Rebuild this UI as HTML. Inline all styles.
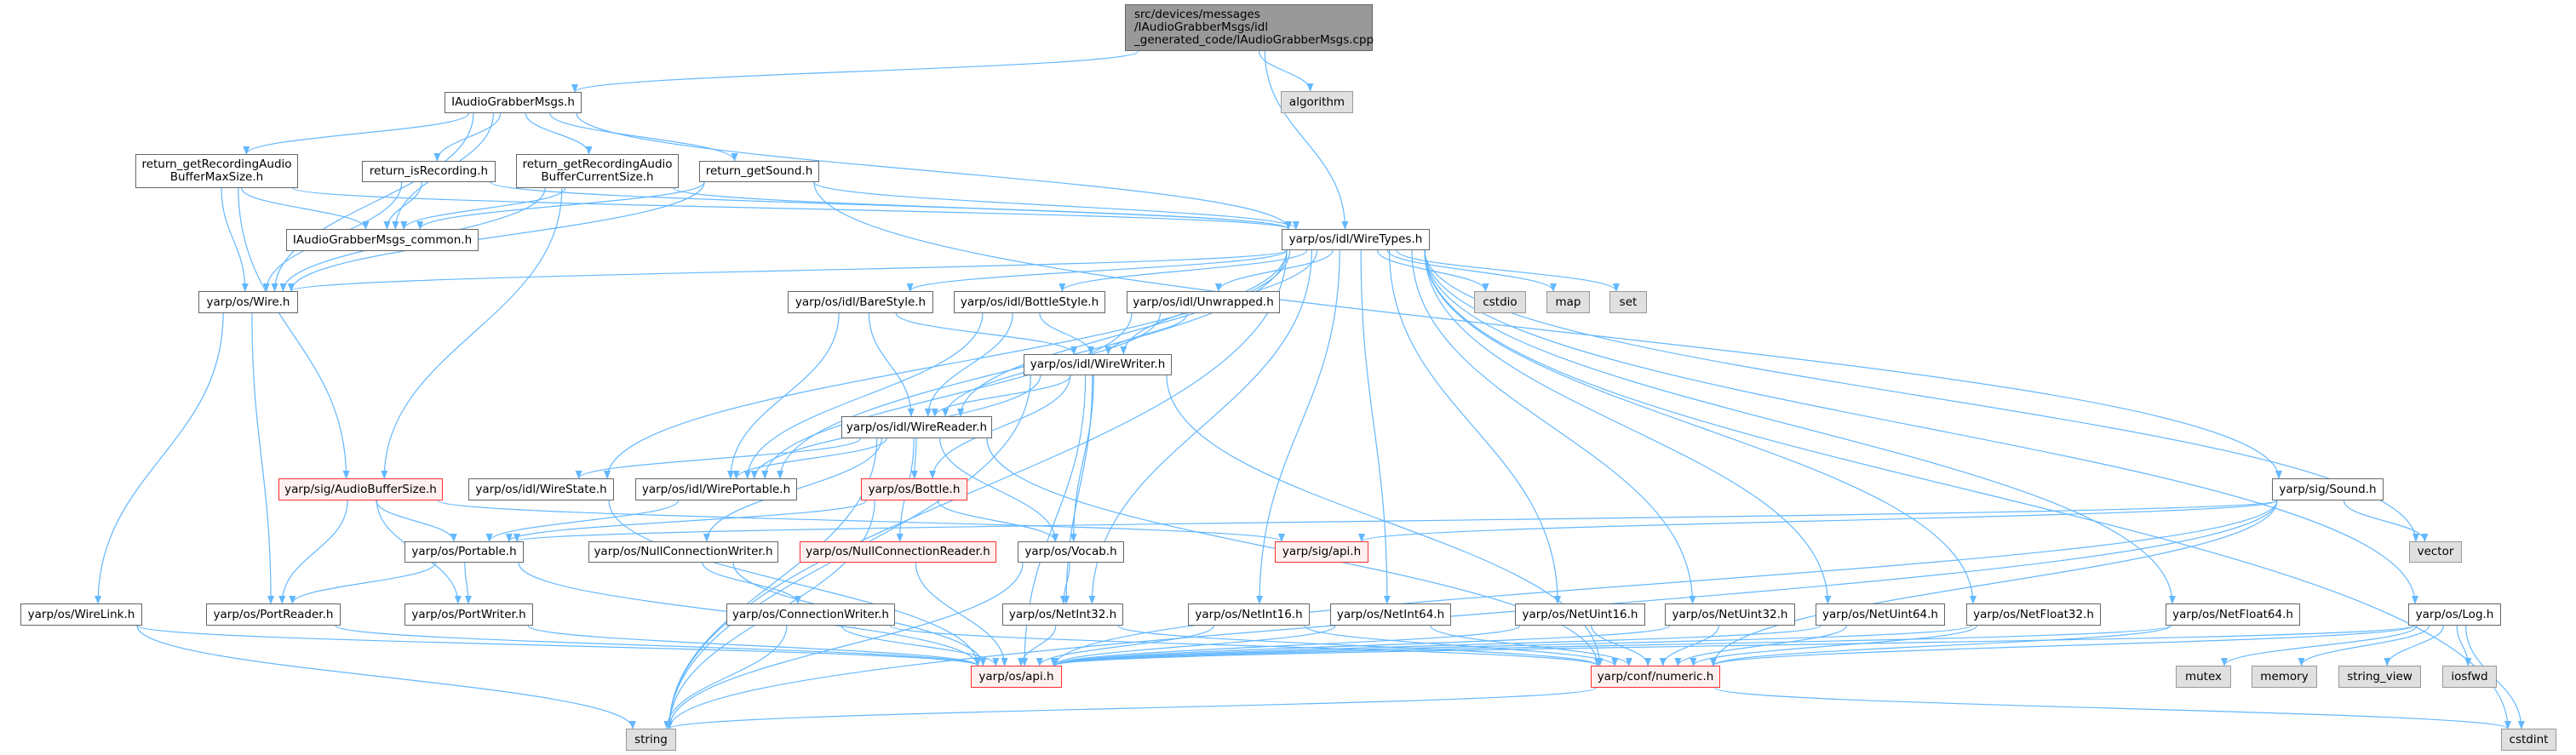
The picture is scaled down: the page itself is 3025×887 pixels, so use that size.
<!DOCTYPE html>
<html><head><meta charset="utf-8">
<style>
html,body{margin:0;padding:0;background:#fff;}
body{width:3025px;height:887px;position:relative;overflow:hidden;font-family:"DejaVu Sans","Liberation Sans",sans-serif;}
.n{position:absolute;box-sizing:border-box;border:1.5px solid #666;background:#fff;font-size:13.5px;color:#000;display:flex;align-items:center;justify-content:center;text-align:center;line-height:15px;white-space:nowrap;z-index:2;}
.r{border-color:#ff3030;background:#fff0f0;}
.g{border-color:#999;background:#e0e0e0;}
.c{background:#999;border-color:#666;justify-content:flex-start;text-align:left;padding-left:10px;}
svg{position:absolute;left:0;top:0;z-index:1;}
</style></head><body>
<svg id="s" width="3025" height="887"><defs><marker id="a" markerWidth="10" markerHeight="8" refX="9" refY="4" orient="auto" markerUnits="userSpaceOnUse"><path d="M0,0 L10,4 L0,8 z" fill="#63b8ff"/></marker></defs><g id="e" fill="none" stroke="#63b8ff" stroke-width="1.2"></g></svg>

<div class="n c" id="cpp" style="left:1321px;top:5px;width:291px;height:55px;">src/devices/messages<br>/IAudioGrabberMsgs/idl<br>_generated_code/IAudioGrabberMsgs.cpp</div>
<div class="n" id="IAGM" style="left:522px;top:108px;width:161px;height:25px;">IAudioGrabberMsgs.h</div>
<div class="n g" id="algorithm" style="left:1504px;top:107px;width:85px;height:26px;">algorithm</div>
<div class="n" id="maxS" style="left:159px;top:181px;width:191px;height:40px;">return_getRecordingAudio<br>BufferMaxSize.h</div>
<div class="n" id="isRec" style="left:425px;top:189px;width:157px;height:25px;">return_isRecording.h</div>
<div class="n" id="curS" style="left:606px;top:181px;width:191px;height:40px;">return_getRecordingAudio<br>BufferCurrentSize.h</div>
<div class="n" id="getS" style="left:821px;top:189px;width:141px;height:25px;">return_getSound.h</div>
<div class="n" id="common" style="left:336px;top:269px;width:226px;height:26px;">IAudioGrabberMsgs_common.h</div>
<div class="n" id="WT" style="left:1505px;top:269px;width:174px;height:25px;">yarp/os/idl/WireTypes.h</div>
<div class="n" id="Wire" style="left:233px;top:342px;width:117px;height:26px;">yarp/os/Wire.h</div>
<div class="n" id="Bare" style="left:925px;top:342px;width:171px;height:26px;">yarp/os/idl/BareStyle.h</div>
<div class="n" id="Bottle_S" style="left:1120px;top:342px;width:178px;height:26px;">yarp/os/idl/BottleStyle.h</div>
<div class="n" id="Unw" style="left:1323px;top:342px;width:180px;height:26px;">yarp/os/idl/Unwrapped.h</div>
<div class="n g" id="cstdio" style="left:1731px;top:342px;width:61px;height:26px;">cstdio</div>
<div class="n g" id="map" style="left:1816px;top:342px;width:51px;height:26px;">map</div>
<div class="n g" id="set" style="left:1890px;top:342px;width:44px;height:26px;">set</div>
<div class="n" id="WW" style="left:1202px;top:416px;width:174px;height:25px;">yarp/os/idl/WireWriter.h</div>
<div class="n" id="WR" style="left:988px;top:489px;width:177px;height:26px;">yarp/os/idl/WireReader.h</div>
<div class="n r" id="ABS" style="left:327px;top:562px;width:193px;height:26px;">yarp/sig/AudioBufferSize.h</div>
<div class="n" id="WS" style="left:550px;top:562px;width:171px;height:26px;">yarp/os/idl/WireState.h</div>
<div class="n" id="WP" style="left:746px;top:562px;width:190px;height:26px;">yarp/os/idl/WirePortable.h</div>
<div class="n r" id="Bottle" style="left:1011px;top:562px;width:125px;height:26px;">yarp/os/Bottle.h</div>
<div class="n" id="Sound" style="left:2668px;top:562px;width:131px;height:26px;">yarp/sig/Sound.h</div>
<div class="n" id="Port" style="left:475px;top:636px;width:140px;height:25px;">yarp/os/Portable.h</div>
<div class="n" id="NCW" style="left:691px;top:636px;width:223px;height:25px;">yarp/os/NullConnectionWriter.h</div>
<div class="n r" id="NCR" style="left:939px;top:636px;width:231px;height:25px;">yarp/os/NullConnectionReader.h</div>
<div class="n" id="Vocab" style="left:1195px;top:636px;width:125px;height:25px;">yarp/os/Vocab.h</div>
<div class="n r" id="sigapi" style="left:1497px;top:636px;width:110px;height:25px;">yarp/sig/api.h</div>
<div class="n g" id="vector" style="left:2829px;top:636px;width:62px;height:25px;">vector</div>
<div class="n" id="WL" style="left:24px;top:709px;width:143px;height:26px;">yarp/os/WireLink.h</div>
<div class="n" id="PR" style="left:242px;top:709px;width:158px;height:26px;">yarp/os/PortReader.h</div>
<div class="n" id="PW" style="left:475px;top:709px;width:151px;height:26px;">yarp/os/PortWriter.h</div>
<div class="n" id="CW" style="left:853px;top:709px;width:198px;height:26px;">yarp/os/ConnectionWriter.h</div>
<div class="n" id="NI32" style="left:1177px;top:709px;width:142px;height:26px;">yarp/os/NetInt32.h</div>
<div class="n" id="NI16" style="left:1395px;top:709px;width:143px;height:26px;">yarp/os/NetInt16.h</div>
<div class="n" id="NI64" style="left:1562px;top:709px;width:142px;height:26px;">yarp/os/NetInt64.h</div>
<div class="n" id="NU16" style="left:1779px;top:709px;width:153px;height:26px;">yarp/os/NetUint16.h</div>
<div class="n" id="NU32" style="left:1955px;top:709px;width:153px;height:26px;">yarp/os/NetUint32.h</div>
<div class="n" id="NU64" style="left:2132px;top:709px;width:152px;height:26px;">yarp/os/NetUint64.h</div>
<div class="n" id="NF32" style="left:2309px;top:709px;width:158px;height:26px;">yarp/os/NetFloat32.h</div>
<div class="n" id="NF64" style="left:2543px;top:709px;width:158px;height:26px;">yarp/os/NetFloat64.h</div>
<div class="n" id="Log" style="left:2828px;top:709px;width:109px;height:26px;">yarp/os/Log.h</div>
<div class="n r" id="api" style="left:1140px;top:782px;width:107px;height:26px;">yarp/os/api.h</div>
<div class="n r" id="num" style="left:1868px;top:782px;width:152px;height:26px;">yarp/conf/numeric.h</div>
<div class="n g" id="mutex" style="left:2555px;top:782px;width:65px;height:26px;">mutex</div>
<div class="n g" id="memory" style="left:2644px;top:782px;width:77px;height:26px;">memory</div>
<div class="n g" id="sv" style="left:2746px;top:782px;width:97px;height:26px;">string_view</div>
<div class="n g" id="iosfwd" style="left:2868px;top:782px;width:64px;height:26px;">iosfwd</div>
<div class="n g" id="string" style="left:735px;top:856px;width:59px;height:26px;">string</div>
<div class="n g" id="cstdint" style="left:2937px;top:856px;width:65px;height:26px;">cstdint</div>

<script>
var E=[
["cpp","IAGM"],["cpp","algorithm"],["cpp","WT"],
["IAGM","maxS"],["IAGM","isRec"],["IAGM","curS"],["IAGM","getS"],["IAGM","common"],["IAGM","Wire"],["IAGM","WT"],
["maxS","common"],["maxS","Wire"],["maxS","WT"],["maxS","ABS"],
["isRec","common"],["isRec","Wire"],["isRec","WT"],
["curS","common"],["curS","Wire"],["curS","WT"],["curS","ABS"],
["getS","common"],["getS","Wire"],["getS","WT"],["getS","Sound"],
["WT","Wire"],["WT","Bare"],["WT","Bottle_S"],["WT","Unw"],["WT","cstdio"],["WT","map"],["WT","set"],["WT","WW"],["WT","WR"],["WT","WP"],["WT","WS"],["WT","vector"],["WT","cstdint"],["WT","Log"],["WT","string"],["WT","NI32"],["WT","NI16"],["WT","NI64"],["WT","NU16"],["WT","NU32"],["WT","NU64"],["WT","NF32"],["WT","NF64"],
["Wire","WL"],["Wire","PR"],
["Bare","WW"],["Bare","WR"],["Bare","WP"],
["Bottle_S","WW"],["Bottle_S","WR"],["Bottle_S","WP"],
["Unw","WW"],["Unw","WR"],["Unw","WP"],
["WW","WR"],["WW","WP"],["WW","Bottle"],["WW","Vocab"],["WW","string"],["WW","NI32"],["WW","api"],["WW","num"],
["WR","WS"],["WR","WP"],["WR","Bottle"],["WR","Vocab"],["WR","NCW"],["WR","NCR"],["WR","string"],["WR","num"],
["WP","Port"],["WS","api"],
["ABS","Port"],["ABS","PR"],["ABS","PW"],["ABS","sigapi"],
["Bottle","Vocab"],["Bottle","Port"],["Bottle","string"],
["Port","PR"],["Port","PW"],["Port","api"],
["NCW","CW"],["NCW","api"],["NCR","api"],
["Vocab","NI32"],["Vocab","string"],
["CW","api"],["CW","string"],["CW","num"],
["PR","api"],["PW","api"],["WL","api"],["WL","string"],
["NI32","api"],["NI32","num"],["NI16","api"],["NI16","num"],["NI64","api"],["NI64","num"],
["NU16","api"],["NU16","num"],["NU32","api"],["NU32","num"],["NU64","api"],["NU64","num"],
["NF32","api"],["NF32","num"],["NF64","api"],["NF64","num"],
["Sound","Port"],["Sound","sigapi"],["Sound","vector"],["Sound","api"],["Sound","num"],["Sound","string"],
["Log","api"],["Log","num"],["Log","mutex"],["Log","memory"],["Log","sv"],["Log","iosfwd"],["Log","cstdint"],
["num","cstdint"],["num","string"]
];
function R(id){var d=document.getElementById(id);var l=d.offsetLeft,t=d.offsetTop,w=d.offsetWidth,h=d.offsetHeight;return{l:l,t:t,r:l+w,b:t+h,cx:l+w/2,cy:t+h/2};}
var g=document.getElementById("e"),ns="http://www.w3.org/2000/svg";
E.forEach(function(e){var a=R(e[0]),b=R(e[1]),d;
 if(b.t>a.b+5){
  var sx=a.cx+(b.cx-a.cx)*0.15; sx=Math.max(a.l+6,Math.min(a.r-6,sx));
  var tx=b.cx+(a.cx-b.cx)*0.1; tx=Math.max(b.l+8,Math.min(b.r-8,tx));
  var dy=(b.t-a.b)*0.45;
  d="M"+sx+","+a.b+" C"+sx+","+(a.b+dy)+" "+tx+","+(b.t-dy)+" "+tx+","+b.t;
 } else {
  var sx2,tx2;
  if(b.cx<a.cx){sx2=a.l;tx2=b.r;}else{sx2=a.r;tx2=b.l;}
  var ty=b.cy, sy=a.cy, mx=(sx2+tx2)/2;
  d="M"+sx2+","+sy+" C"+mx+","+sy+" "+mx+","+ty+" "+tx2+","+ty;
 }
 var p=document.createElementNS(ns,"path");p.setAttribute("d",d);p.setAttribute("marker-end","url(#a)");g.appendChild(p);
});
</script>
</body></html>
